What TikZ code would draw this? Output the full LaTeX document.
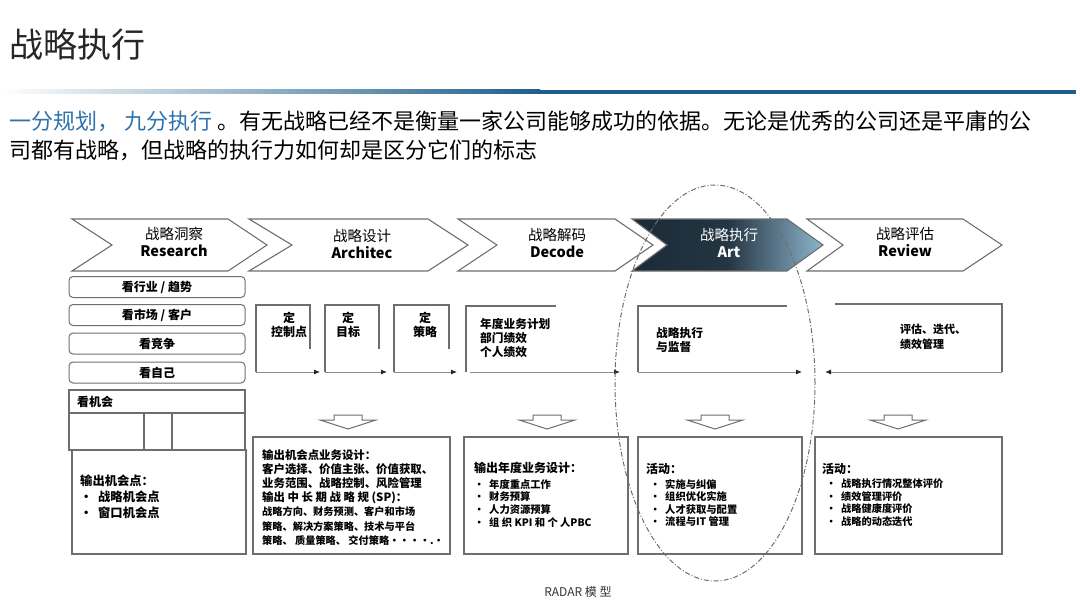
\documentclass[tikz,border=0pt]{standalone}
\usepackage{fontspec}
\setmainfont{Noto Sans CJK SC}
\usetikzlibrary{arrows.meta}

\definecolor{linegray}{HTML}{6E6E6E}
\definecolor{leadblue}{HTML}{2F72AE}
\definecolor{barblue}{HTML}{1F5E8C}
\definecolor{artdark}{HTML}{1B2A37}
\definecolor{artlight}{HTML}{8DB5CC}

\newcommand{\setfs}[2]{\fontsize{#1}{#2}\selectfont}
\newcommand{\bul}[1]{\makebox[15pt][l]{•}#1}

\begin{document}
\begin{tikzpicture}[x=1pt,y=-1pt,
  box/.style={draw=linegray, line width=1.2pt},
  chev/.style={draw=linegray, line width=1.1pt, fill=white},
  sidebox/.style={draw=linegray, line width=1pt, rounded corners=4pt,
    minimum width=176pt, minimum height=21pt, inner sep=0pt,
    font=\setfs{12}{14}\bfseries},
  chevtext/.style={align=center, inner sep=0pt, font=\setfs{14.5}{17.5}},
  flow/.style={draw=linegray!80, line width=0.9pt, -{Latex[length=6pt,width=5pt,color=black!85]}},
  boxtext/.style={anchor=north west, inner sep=0pt, align=left},
  ]

  \useasboundingbox (0,0) rectangle (1080,610);

  % title and lead text
  \node[anchor=west, inner sep=0pt, text=black!85, font=\setfs{34}{40}] (title) at (9,45) {战略执行};
  \shade[left color=white, right color=barblue] (0,90) rectangle (540,94);
  \fill[barblue] (540,90) rectangle (1076,94);

  \node[anchor=west, inner sep=0pt, font=\setfs{22}{26}] (lead1) at (9,121)
    {\textcolor{leadblue}{一分规划，\ 九分执行} 。有无战略已经不是衡量一家公司能够成功的依据。无论是优秀的公司还是平庸的公};
  \node[anchor=west, inner sep=0pt, font=\setfs{22}{26}] (lead2) at (9,150)
    {司都有战略，但战略的执行力如何却是区分它们的标志};

  % chevrons
  \foreach \xa/\xn/\xb/\xt in {72/112/228/267, 249/292/428/468, 458/497/615/653, 807/843/963/1002} {
    \draw[chev] (\xa,219) -- (\xb,219) -- (\xt,245) -- (\xb,271) -- (\xa,271) -- (\xn,245) -- cycle;
  }
  \shade[left color=artdark, right color=artlight, middle color=artdark!92!artlight]
    (632,219) -- (787,219) -- (823,245) -- (787,271) -- (632,271) -- (667,245) -- cycle;
  \draw[draw=linegray, line width=1.1pt]
    (632,219) -- (787,219) -- (823,245) -- (787,271) -- (632,271) -- (667,245) -- cycle;

  \node[chevtext] (research) at (174,242) {战略洞察\\\textbf{Research}};
  \node[chevtext] (architec) at (362,244) {战略设计\\\textbf{Architec}};
  \node[chevtext] (decode) at (557,243) {战略解码\\\textbf{Decode}};
  \node[chevtext, text=white] (art) at (729,243) {战略执行\\\textbf{Art}};
  \node[chevtext] (review) at (905,242) {战略评估\\\textbf{Review}};

  % research column
  \node[sidebox] (industry) at (157,287) {看行业 / 趋势};
  \node[sidebox] (market) at (157,315) {看市场 / 客户};
  \node[sidebox] (rival) at (157,343.5) {看竞争};
  \node[sidebox] (self) at (157,372.5) {看自己};

  \draw[box] (69,390) rectangle (245,450);
  \draw[box] (69,413) -- (245,413);
  \draw[box] (144,413) -- (144,450) (172,413) -- (172,450);
  \node[anchor=west, inner sep=0pt, font=\setfs{12}{14}\bfseries] (chance) at (77,402) {看机会};
  \draw[box] (72,450) rectangle (246,554);
  \node[boxtext, font=\setfs{12.3}{16}\bfseries] (chanceout) at (80,475)
    {输出机会点：\\\makebox[18pt][l]{•}战略机会点\\\makebox[18pt][l]{•}窗口机会点};

  % architec flow
  \foreach \l/\r/\e/\tx/\name/\txt in {256/310/320/289/ctrl/控制点, 325/379/387/348/goal/目标, 394/449/457/425/strat/策略} {
    \draw[box] (\r,349) -- (\r,305) -- (\l,305) -- (\l,372);
    \draw[flow] (\l,372) -- (\e,372);
    \node[align=center, inner sep=0pt, font=\setfs{12}{14}\bfseries] (\name) at (\tx,325) {定\\\txt};
  }

  % decode flow
  \draw[box] (556,306) -- (466,306) -- (466,372);
  \draw[flow] (470,372) -- (620,372);
  \node[boxtext, font=\setfs{11.7}{14}\bfseries] (plan) at (480,318) {年度业务计划\\部门绩效\\个人绩效};

  % art flow
  \draw[box] (787,306) -- (638,306) -- (638,372);
  \draw[flow] (638,372) -- (802,372);
  \node[boxtext, font=\setfs{11.7}{14}\bfseries] (monitor) at (656,327) {战略执行\\与监督};

  % review flow
  \draw[box] (835,304) -- (1002,304) -- (1002,372);
  \draw[flow] (1002,372) -- (825,372);
  \node[boxtext, font=\setfs{11}{15}\bfseries] (iterate) at (900,324) {评估、迭代、\\绩效管理};

  % hollow down arrows
  \foreach \cx in {348,547,715,898} {
    \draw[box, line width=1pt, fill=white] ({\cx-14},415) -- ({\cx+14},415) -- ({\cx+14},420) -- ({\cx+28},420)
      -- (\cx,429) -- ({\cx-28},420) -- ({\cx-14},420) -- cycle;
  }

  % output boxes
  \draw[box] (253,437) rectangle (450,554);
  \node[boxtext, font=\setfs{11.4}{14.2}\bfseries] (archout) at (262,449)
    {输出机会点业务设计：\\
     客户选择、价值主张、价值获取、\\
     业务范围、战略控制、风险管理\\
     输出 中 长 期 战 略 规 (SP)：\\
     {\setfs{10.2}{14.2}战略方向、财务预测、客户和市场}\\
     {\setfs{10.2}{14.2}策略、解决方案策略、技术与平台}\\
     {\setfs{10.2}{14.2}策略、 质量策略、 交付策略····.·}};

  \draw[box] (464,437) rectangle (628,554);
  \node[anchor=west, inner sep=0pt, font=\setfs{12}{14}\bfseries] (decodeout) at (474,468) {输出年度业务设计：};
  \node[boxtext, font=\setfs{10.3}{12.7}\bfseries] (decodelist) at (474,479)
    {\bul{年度重点工作}\\\bul{财务预算}\\\bul{人力资源预算}\\\bul{组 织 KPI 和 个 人PBC}};

  \draw[box] (638,437) rectangle (802,554);
  \node[anchor=west, inner sep=0pt, font=\setfs{12}{14}\bfseries] (artout) at (646,469) {活动：};
  \node[boxtext, font=\setfs{10.3}{12.5}\bfseries] (artlist) at (650,479)
    {\bul{实施与纠偏}\\\bul{组织优化实施}\\\bul{人才获取与配置}\\\bul{流程与IT 管理}};

  \draw[box] (815,437) rectangle (1002,554);
  \node[anchor=west, inner sep=0pt, font=\setfs{12}{14}\bfseries] (reviewout) at (822,469) {活动：};
  \node[boxtext, font=\setfs{10.2}{12.5}\bfseries] (reviewlist) at (826,479)
    {\bul{战略执行情况整体评价}\\\bul{绩效管理评价}\\\bul{战略健康度评价}\\\bul{战略的动态迭代}};

  \node[inner sep=0pt, text=black!80, font=\setfs{12}{14}] (radar) at (578,592) {RADAR 模 型};

  % focus ring round the art stage
  \draw[linegray, line width=1pt, dash pattern=on 5pt off 2pt on 1pt off 2pt]
    (715,383) ellipse [x radius=100pt, y radius=198pt];

\end{tikzpicture}
\end{document}
